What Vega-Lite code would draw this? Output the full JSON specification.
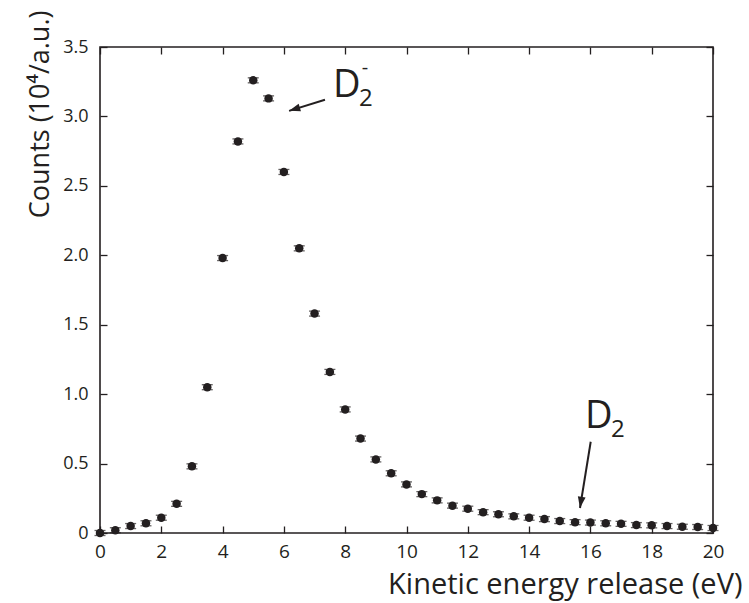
{
  "$schema": "https://vega.github.io/schema/vega-lite/v6.json",
  "width": 613,
  "height": 486,
  "autosize": "none",
  "padding": {"left": 100, "top": 47, "right": 36, "bottom": 70},
  "background": "white",
  "config": {
    "font": "Open Sans",
    "view": {"stroke": "#231f20", "strokeWidth": 1.6},
    "axis": {
      "domain": false,
      "grid": false,
      "tickColor": "#231f20",
      "tickWidth": 1.3,
      "tickSize": -7,
      "labelFlush": false,
      "labelColor": "#231f20",
      "labelFont": "Open Sans",
      "labelFontSize": 18,
      "titleColor": "#231f20",
      "titleFont": "Open Sans, DejaVu Sans",
      "titleFontSize": 27,
      "titleFontWeight": "normal"
    }
  },
  "datasets": {
    "pts": [
      {"e": 0, "c": 0.0, "err": 0.018},
      {"e": 0.5, "c": 0.02, "err": 0.018},
      {"e": 1, "c": 0.05, "err": 0.018},
      {"e": 1.5, "c": 0.07, "err": 0.018},
      {"e": 2, "c": 0.11, "err": 0.018},
      {"e": 2.5, "c": 0.21, "err": 0.018},
      {"e": 3, "c": 0.48, "err": 0.018},
      {"e": 3.5, "c": 1.05, "err": 0.018},
      {"e": 4, "c": 1.98, "err": 0.018},
      {"e": 4.5, "c": 2.82, "err": 0.018},
      {"e": 5, "c": 3.26, "err": 0.018},
      {"e": 5.5, "c": 3.13, "err": 0.018},
      {"e": 6, "c": 2.60, "err": 0.018},
      {"e": 6.5, "c": 2.05, "err": 0.018},
      {"e": 7, "c": 1.58, "err": 0.018},
      {"e": 7.5, "c": 1.16, "err": 0.018},
      {"e": 8, "c": 0.89, "err": 0.018},
      {"e": 8.5, "c": 0.68, "err": 0.018},
      {"e": 9, "c": 0.53, "err": 0.018},
      {"e": 9.5, "c": 0.43, "err": 0.018},
      {"e": 10, "c": 0.35, "err": 0.018},
      {"e": 10.5, "c": 0.28, "err": 0.018},
      {"e": 11, "c": 0.235, "err": 0.018},
      {"e": 11.5, "c": 0.197, "err": 0.018},
      {"e": 12, "c": 0.175, "err": 0.018},
      {"e": 12.5, "c": 0.15, "err": 0.018},
      {"e": 13, "c": 0.135, "err": 0.018},
      {"e": 13.5, "c": 0.12, "err": 0.018},
      {"e": 14, "c": 0.11, "err": 0.018},
      {"e": 14.5, "c": 0.10, "err": 0.018},
      {"e": 15, "c": 0.086, "err": 0.018},
      {"e": 15.5, "c": 0.078, "err": 0.018},
      {"e": 16, "c": 0.075, "err": 0.018},
      {"e": 16.5, "c": 0.07, "err": 0.018},
      {"e": 17, "c": 0.066, "err": 0.018},
      {"e": 17.5, "c": 0.057, "err": 0.018},
      {"e": 18, "c": 0.055, "err": 0.018},
      {"e": 18.5, "c": 0.05, "err": 0.018},
      {"e": 19, "c": 0.045, "err": 0.018},
      {"e": 19.5, "c": 0.043, "err": 0.018},
      {"e": 20, "c": 0.036, "err": 0.018}
    ],
    "ann": [
      {"name": "Dminus", "x": 7.6, "y": 3.139},
      {"name": "D", "x": 15.82, "y": 0.756}
    ],
    "arrows": [
      {"name": "Dminus", "x": 7.34, "y": 3.12, "hx": 6.17, "hy": 3.04},
      {"name": "D", "x": 16.01, "y": 0.657, "hx": 15.66, "hy": 0.18}
    ]
  },
  "layer": [
    {
      "data": {"name": "pts"},
      "mark": {"type": "errorbar", "color": "#231f20", "thickness": 1.3, "ticks": {"size": 11, "thickness": 1.3, "color": "#231f20"}},
      "encoding": {
        "x": {"field": "e", "type": "quantitative", "scale": {"domain": [0, 20], "nice": false},
          "axis": {"orient": "bottom", "values": [0,2,4,6,8,10,12,14,16,18,20], "labelPadding": 16, "labelFontSize": 19,
                   "title": "Kinetic energy release (eV)", "titleFontSize": 29, "titleAnchor": "end", "titleAlign": "right", "titleBaseline": "alphabetic", "titleX": 642, "titleY": 60}},
        "y": {"field": "c", "type": "quantitative", "scale": {"domain": [0, 3.5], "nice": false},
          "axis": {"orient": "left", "values": [0,0.5,1,1.5,2,2.5,3,3.5], "labelPadding": 19,
                   "labelExpr": "datum.value == 0 ? '0' : format(datum.value, '.1f')",
                   "title": "Counts (10⁴/a.u.)", "titleAnchor": "end", "titleX": -52, "titleY": -37, "titleAlign": "right", "titleBaseline": "alphabetic"}},
        "yError": {"field": "err"}
      }
    },
    {
      "data": {"name": "pts"},
      "mark": {"type": "point", "shape": "circle", "filled": true, "size": 72, "color": "#231f20", "opacity": 1, "clip": false},
      "encoding": {
        "x": {"field": "e", "type": "quantitative", "scale": {"domain": [0, 20], "nice": false},
          "axis": {"orient": "top", "values": [0,2,4,6,8,10,12,14,16,18,20], "labels": false, "title": null}},
        "y": {"field": "c", "type": "quantitative", "scale": {"domain": [0, 3.5], "nice": false},
          "axis": {"orient": "right", "values": [0,0.5,1,1.5,2,2.5,3,3.5], "labels": false, "title": null}}
      }
    },
    {
      "data": {"name": "arrows"},
      "mark": {"type": "rule", "color": "#231f20", "strokeWidth": 2},
      "encoding": {
        "x": {"field": "x", "type": "quantitative", "axis": null},
        "y": {"field": "y", "type": "quantitative", "axis": null},
        "x2": {"field": "hx"},
        "y2": {"field": "hy"}
      }
    },
    {
      "data": {"name": "arrows"},
      "transform": [{"filter": "datum.name == 'Dminus'"}],
      "mark": {"type": "point", "shape": "M0,0L-0.35,1L0.35,1Z", "filled": true, "size": 500, "angle": 253, "color": "#231f20", "opacity": 1},
      "encoding": {
        "x": {"field": "hx", "type": "quantitative", "axis": null},
        "y": {"field": "hy", "type": "quantitative", "axis": null}
      }
    },
    {
      "data": {"name": "arrows"},
      "transform": [{"filter": "datum.name == 'D'"}],
      "mark": {"type": "point", "shape": "M0,0L-0.35,1L0.35,1Z", "filled": true, "size": 500, "angle": 189, "color": "#231f20", "opacity": 1},
      "encoding": {
        "x": {"field": "hx", "type": "quantitative", "axis": null},
        "y": {"field": "hy", "type": "quantitative", "axis": null}
      }
    },
    {
      "data": {"name": "ann"},
      "mark": {"type": "text", "text": "D", "font": "Open Sans", "fontSize": 38, "align": "left", "baseline": "alphabetic", "color": "#231f20"},
      "encoding": {
        "x": {"field": "x", "type": "quantitative", "axis": null},
        "y": {"field": "y", "type": "quantitative", "axis": null}
      }
    },
    {
      "data": {"name": "ann"},
      "mark": {"type": "text", "text": "2", "font": "Open Sans", "fontSize": 24, "align": "left", "baseline": "alphabetic", "dx": 26, "dy": 9, "color": "#231f20"},
      "encoding": {
        "x": {"field": "x", "type": "quantitative", "axis": null},
        "y": {"field": "y", "type": "quantitative", "axis": null}
      }
    },
    {
      "data": {"name": "ann"},
      "transform": [{"filter": "datum.name == 'Dminus'"}],
      "mark": {"type": "text", "text": "-", "font": "Open Sans", "fontSize": 20, "align": "center", "baseline": "middle", "dx": 32, "dy": -29, "color": "#231f20"},
      "encoding": {
        "x": {"field": "x", "type": "quantitative", "axis": null},
        "y": {"field": "y", "type": "quantitative", "axis": null}
      }
    }
  ],
  "resolve": {"axis": {"x": "independent", "y": "independent"}}
}
